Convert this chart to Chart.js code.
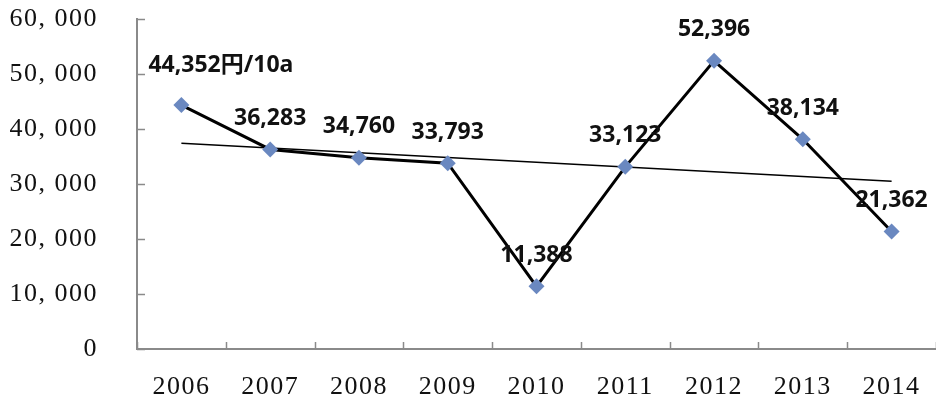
<!DOCTYPE html>
<html>
<head>
<meta charset="utf-8">
<script src="https://cdn.jsdelivr.net/npm/chart.js@4/dist/chart.umd.min.js"></script>
<style>
  html, body { margin: 0; padding: 0; background: #fff; }
  #wrap { width: 936px; height: 399px; }
</style>
</head>
<body>
<div id="wrap"><canvas id="chart"></canvas></div>
<script>
  // dados
  var years = ['2006', '2007', '2008', '2009', '2010', '2011', '2012', '2013', '2014'];
  var prices = [44352, 36283, 34760, 33793, 11388, 33123, 52396, 38134, 21362];
  var trend = [37400, null, null, null, null, null, null, null, 30500];
  var pointLabels = ['44,352円/10a', '36,283', '34,760', '33,793', '11,388', '33,123', '52,396', '38,134', '21,362'];

  var serifFont = '"Liberation Serif", "DejaVu Serif", serif';
  var axisColor = '#8a8a8a';

  // espacamento das letras dos eixos (fonte serifada mais larga)
  var spacingPlugin = {
    id: 'spacing',
    beforeInit: function(chart){ chart.ctx.letterSpacing = '1.5px'; },
    beforeDraw: function(chart){ chart.ctx.letterSpacing = '1.5px'; }
  };

  // marcas dos eixos voltadas para dentro do grafico
  var innerTicks = {
    id: 'innerTicks',
    afterDraw: function(chart){
      var ctx = chart.ctx;
      var x = chart.scales.x, y = chart.scales.y;
      ctx.save();
      ctx.strokeStyle = axisColor;
      ctx.lineWidth = 1.5;
      ctx.beginPath();
      y.ticks.forEach(function(t){
        var py = Math.round(y.getPixelForValue(t.value)) + 0.5;
        ctx.moveTo(y.right, py);
        ctx.lineTo(y.right + 8, py);
      });
      for(var i = 0; i <= years.length; i++){
        var px = Math.round(x.getPixelForValue(i - 0.5)) + 0.5;
        ctx.moveTo(px, x.top);
        ctx.lineTo(px, x.top - 7);
      }
      ctx.stroke();
      ctx.restore();
    }
  };

  // desenha os rotulos acima dos pontos
  var labelPlugin = {
    id: 'pointLabels',
    afterDatasetsDraw: function(chart){
      var ctx = chart.ctx;
      var meta = chart.getDatasetMeta(0);
      ctx.save();
      ctx.letterSpacing = '0px';
      ctx.font = 'bold 23px "Noto Sans", "Noto Sans CJK JP", sans-serif';
      ctx.fillStyle = '#111';
      ctx.textBaseline = 'middle';
      meta.data.forEach(function(pt, i){
        if(i === 0){
          ctx.textAlign = 'left';
          ctx.fillText(pointLabels[i], pt.x - 33, pt.y - 40);
        }else{
          ctx.textAlign = 'center';
          ctx.fillText(pointLabels[i], pt.x, pt.y - 31);
        }
      });
      ctx.restore();
    }
  };

  new Chart(document.getElementById('chart'), {
    type: 'line',
    data: {
      labels: years,
      datasets: [{
        data: prices,
        borderColor: '#000',
        borderWidth: 3,
        pointStyle: 'rectRot',
        pointRadius: 8,
        pointBackgroundColor: '#6a88c0',
        pointBorderColor: '#6a88c0',
        pointBorderWidth: 0,
        tension: 0
      }, {
        data: trend,
        borderColor: '#000',
        borderWidth: 1.5,
        pointRadius: 0,
        spanGaps: true
      }]
    },
    options: {
      responsive: true,
      maintainAspectRatio: false,
      animation: false,
      layout: { autoPadding: false, padding: { top: 19, right: 0, left: 0, bottom: 0 } },
      plugins: { legend: { display: false }, tooltip: { enabled: false } },
      scales: {
        x: {
          offset: true,
          grid: { offset: true, drawOnChartArea: false, tickLength: 23, tickColor: 'rgba(0,0,0,0)' },
          border: { color: axisColor, width: 2 },
          ticks: {
            padding: 0,
            color: '#111',
            font: { family: serifFont, size: 26 }
          },
          afterFit: function(s){ s.height = 50; }
        },
        y: {
          min: 0,
          max: 60000,
          grid: { drawOnChartArea: false, tickLength: 39, tickColor: 'rgba(0,0,0,0)' },
          border: { color: axisColor, width: 2 },
          ticks: {
            stepSize: 10000,
            padding: 0,
            color: '#111',
            font: { family: serifFont, size: 26 },
            callback: function(v){ return v.toLocaleString('en-US').replace(',', ', '); }
          },
          afterFit: function(s){ s.width = 137; }
        }
      }
    },
    plugins: [spacingPlugin, innerTicks, labelPlugin]
  });
</script>
</body>
</html>
